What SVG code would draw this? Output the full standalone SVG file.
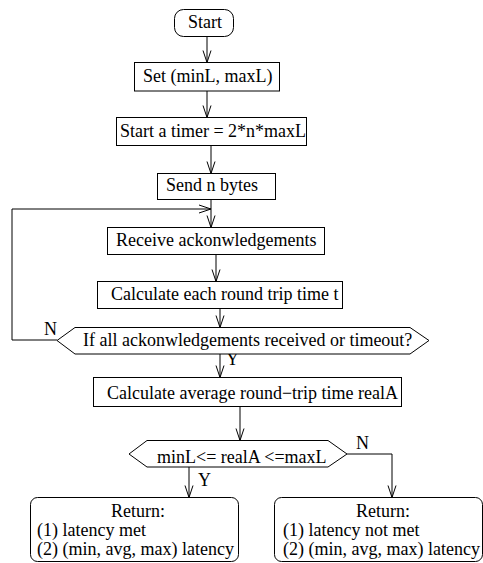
<svg xmlns="http://www.w3.org/2000/svg" width="483" height="563" viewBox="0 0 483 563">
  <style>
    .box { fill: #fff; stroke: #000; stroke-width: 1; }
    .ln { fill: none; stroke: #000; stroke-width: 1; }
    .t { font-family: "Liberation Serif", "Times New Roman", serif; font-size: 18px; fill: #000; }
  </style>
  <defs>
    <marker id="arr" markerUnits="userSpaceOnUse" markerWidth="14" markerHeight="10" viewBox="0 0 14 10" refX="13" refY="5" orient="auto">
      <path d="M1,1 L13,5 L1,9" fill="none" stroke="#000" stroke-width="1"/>
    </marker>
  </defs>
  <rect width="483" height="563" fill="#fff"/>

  <g id="connectors">
    <line class="ln" x1="207" y1="36" x2="207" y2="62.5" marker-end="url(#arr)"/>
    <line class="ln" x1="207" y1="91" x2="207" y2="117.5" marker-end="url(#arr)"/>
    <line class="ln" x1="211" y1="145" x2="211" y2="173.5" marker-end="url(#arr)"/>
    <line class="ln" x1="211" y1="199" x2="211" y2="227.5" marker-end="url(#arr)"/>
    <polyline class="ln" points="57,340 12,340 12,209 211,209" marker-end="url(#arr)"/>
    <line class="ln" x1="216" y1="254" x2="216" y2="281.5" marker-end="url(#arr)"/>
    <line class="ln" x1="220" y1="308" x2="220" y2="327.5" marker-end="url(#arr)"/>
    <line class="ln" x1="220" y1="354" x2="220" y2="377.5" marker-end="url(#arr)"/>
    <line class="ln" x1="240" y1="406" x2="240" y2="440.5" marker-end="url(#arr)"/>
    <line class="ln" x1="189" y1="467" x2="189" y2="497.5" marker-end="url(#arr)"/>
    <polyline class="ln" points="347,454 392,454 392,497.5" marker-end="url(#arr)"/>
    <text class="t" x="44" y="335">N</text>
    <text class="t" x="226" y="365">Y</text>
    <text class="t" x="198" y="486">Y</text>
    <text class="t" x="356" y="449">N</text>
  </g>

  <g id="start">
    <rect class="box" x="174.5" y="9.5" width="59" height="27" rx="9"/>
    <text class="t" x="188" y="28">Start</text>
  </g>
  <g id="set-bounds">
    <rect class="box" x="134.5" y="62.5" width="145" height="28.5"/>
    <text class="t" x="143" y="82">Set (minL, maxL)</text>
  </g>
  <g id="start-timer">
    <rect class="box" x="116.5" y="117.5" width="190" height="28"/>
    <text class="t" x="120" y="137">Start a timer = 2*n*maxL</text>
  </g>
  <g id="send-bytes">
    <rect class="box" x="157.5" y="173.5" width="118" height="26"/>
    <text class="t" x="166" y="191">Send n bytes</text>
  </g>
  <g id="receive-acks">
    <rect class="box" x="107.5" y="227.5" width="217" height="27"/>
    <text class="t" x="116" y="246">Receive ackonwledgements</text>
  </g>
  <g id="calc-rtt">
    <rect class="box" x="97.5" y="281.5" width="245" height="27"/>
    <text class="t" x="111" y="300">Calculate each round trip time t</text>
  </g>
  <g id="check-done">
    <polygon class="box" points="57,340.5 75,327.5 410,327.5 429,340.5 410,354 75,354"/>
    <text class="t" x="83" y="346">If all ackonwledgements received or timeout?</text>
  </g>
  <g id="calc-avg">
    <rect class="box" x="93.5" y="377.5" width="308" height="29"/>
    <text class="t" x="107" y="399">Calculate average round−trip time realA</text>
  </g>
  <g id="check-range">
    <polygon class="box" points="129,454 147,440.5 328,440.5 347,454 328,467 147,467"/>
    <text class="t" x="157" y="463">minL&lt;= realA &lt;=maxL</text>
  </g>
  <g id="return-met">
    <rect class="box" x="30.5" y="497.5" width="208" height="64" rx="7"/>
    <text class="t" x="111" y="517">Return:</text>
    <text class="t" x="37" y="536">(1) latency met</text>
    <text class="t" x="37" y="555">(2) (min, avg, max) latency</text>
  </g>
  <g id="return-not-met">
    <rect class="box" x="274.5" y="497.5" width="208" height="64" rx="7"/>
    <text class="t" x="356" y="517">Return:</text>
    <text class="t" x="283" y="536">(1) latency not met</text>
    <text class="t" x="283" y="555">(2) (min, avg, max) latency</text>
  </g>
</svg>
